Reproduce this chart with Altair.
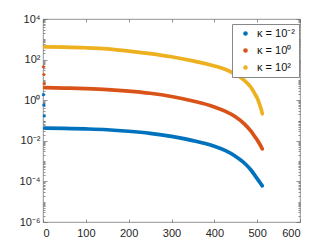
import altair as alt
import pandas as pd

# ---- data ----
x_curve = [4, 50, 100, 150, 200, 250, 300, 350, 400, 425, 450, 470, 485, 495, 500, 505, 510, 512]
y_k_m2 = [0.0426, 0.0407, 0.0384, 0.0351, 0.0296, 0.0233, 0.0165, 0.0102, 0.00535, 0.00335,
          0.00169, 0.000805, 0.000376, 0.000194, 0.000138, 0.0000977, 0.0000695, 0.0000605]
y_k_0 = [4.16, 3.97, 3.71, 3.35, 2.82, 2.20, 1.53, 0.914, 0.467, 0.289,
         0.149, 0.0687, 0.0309, 0.0156, 0.0111, 0.00743, 0.00482, 0.00397]
y_k_2 = [426, 411, 384, 339, 264, 198, 138, 86.3, 48.8, 33.5,
         18.5, 9.55, 4.46, 2.00, 1.27, 0.679, 0.324, 0.215]

x_early = [1, 2, 3]
early_k_m2 = [1.87, 0.585, 0.167]
early_k_0 = [44.6, 18.5, 6.56]

series = ["κ = 10⁻²", "κ = 10⁰", "κ = 10²"]
colors = ["#0072BD", "#D95319", "#EDB120"]

x_ticks = [0, 100, 200, 300, 400, 500, 600]
y_major = [1e-6, 1e-4, 1e-2, 1, 1e2, 1e4]
y_minor = [m * 10.0 ** k for k in range(-6, 4) for m in range(2, 10)] + [1e-5, 1e-3, 1e-1, 10, 1e3]

rows = []
for name, ys in zip(series, [y_k_m2, y_k_0, y_k_2]):
    for x, y in zip(x_curve, ys):
        rows.append({"x": x, "y": y, "s": name})
df_lines = pd.DataFrame(rows)

rows = []
for name, ys in zip(series[:2], [early_k_m2, early_k_0]):
    for x, y in zip(x_early, ys):
        rows.append({"x": x, "y": y, "s": name})
df_pts = pd.DataFrame(rows)

xscale = alt.Scale(domain=[0, 600], nice=False)
yscale = alt.Scale(type="log", domain=[1e-6, 1e4], nice=False)
cscale = alt.Scale(domain=series, range=colors)

label_expr = ("datum.value < 1e-5 ? '10⁻⁶' : datum.value < 1e-3 ? '10⁻⁴' : "
              "datum.value < 0.1 ? '10⁻²' : datum.value < 10 ? '10⁰' : "
              "datum.value < 1000 ? '10²' : '10⁴'")

lines = alt.Chart(df_lines).mark_line(strokeWidth=3.7, strokeCap="round", interpolate="monotone").encode(
    x=alt.X("x:Q", scale=xscale,
            axis=alt.Axis(orient="bottom", values=x_ticks, title=None, offset=-3, tickSize=3,
                          labelPadding=5, grid=False)),
    y=alt.Y("y:Q", scale=yscale,
            axis=alt.Axis(orient="left", values=y_major, title=None, offset=-4, tickSize=4,
                          labelPadding=3, labelExpr=label_expr, grid=False)),
    color=alt.Color("s:N", scale=cscale,
                    legend=alt.Legend(title=None, orient="none", legendX=189, legendY=5,
                                      symbolType="circle", symbolSize=10,
                                      symbolOffset=4,
                                      strokeColor="#888", fillColor="white",
                                      padding=4, rowPadding=5, labelFontSize=11,
                                      labelOffset=6, labelFont="Liberation Sans",
                                      labelColor="#111")),
)

pts = alt.Chart(df_pts).mark_circle(size=10, opacity=1).encode(
    x=alt.X("x:Q", scale=xscale,
            axis=alt.Axis(orient="top", values=x_ticks, title=None, offset=-3, tickSize=3,
                          labels=False, grid=False)),
    y=alt.Y("y:Q", scale=yscale,
            axis=alt.Axis(orient="right", values=y_major, title=None, offset=-4, tickSize=4,
                          labels=False, grid=False)),
    color=alt.Color("s:N", scale=cscale, legend=None),
)

minor_left = alt.Chart(df_pts).mark_circle(opacity=0).encode(
    x=alt.X("x:Q", scale=xscale, axis=None),
    y=alt.Y("y:Q", scale=yscale,
            axis=alt.Axis(orient="left", values=y_minor, title=None, offset=-2, tickSize=2,
                          labels=False, grid=False)),
)
minor_right = alt.Chart(df_pts).mark_circle(opacity=0).encode(
    x=alt.X("x:Q", scale=xscale, axis=None),
    y=alt.Y("y:Q", scale=yscale,
            axis=alt.Axis(orient="right", values=y_minor, title=None, offset=-2, tickSize=2,
                          labels=False, grid=False)),
)

chart = alt.layer(lines, pts, minor_left, minor_right).resolve_axis(
    x="independent", y="independent"
).properties(
    width=257, height=203,
    autosize=alt.AutoSizeParams(type="none"),
    padding={"left": 35, "top": 11, "right": 24, "bottom": 20},
).configure_view(
    stroke="#777", strokeWidth=0.8
).configure_axis(
    domain=False, tickColor="#666", tickWidth=0.7,
    labelFont="Liberation Sans", labelFontSize=11, labelColor="#262626",
)

chart.save("out.html", embed_options={"renderer": "svg", "actions": False})
